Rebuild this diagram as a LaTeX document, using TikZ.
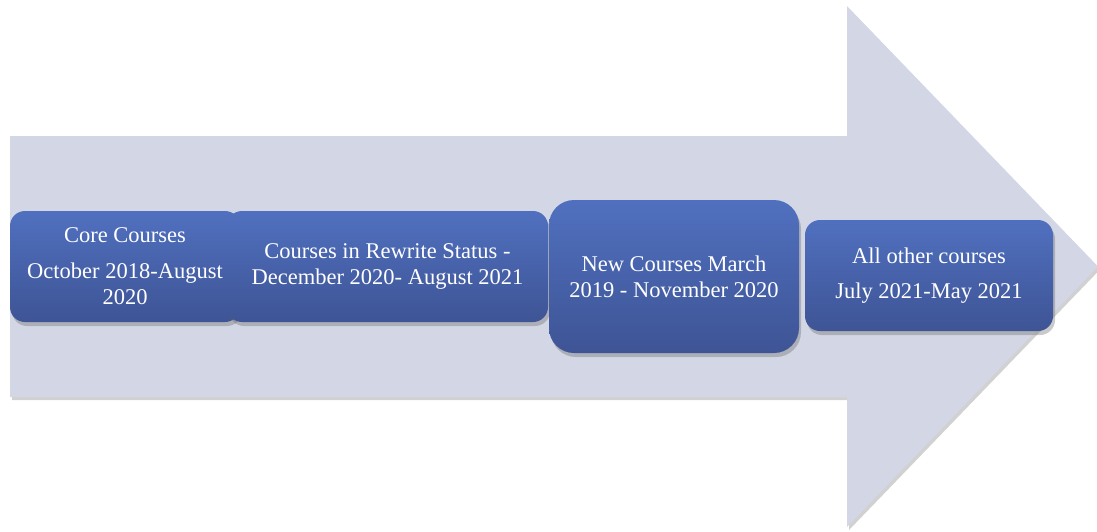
\documentclass[tikz,border=0pt]{standalone}
\usepackage{fontspec}
\setmainfont{Liberation Serif}
\usetikzlibrary{shadows}
\definecolor{arrowfill}{HTML}{D3D6E4}
\definecolor{boxtop}{HTML}{5070BF}
\definecolor{boxbot}{HTML}{3E5495}
\tikzset{
  stagebox/.style={rounded corners=15pt, top color=boxtop, bottom color=boxbot,
    draw=none, text=white, align=center, inner sep=0pt,
    font=\fontsize{22.5}{26}\selectfont,
    drop shadow={shadow xshift=2pt, shadow yshift=-4pt, opacity=0.35, fill=black!60}},
}
\begin{document}
\begin{tikzpicture}[x=1pt,y=-1pt]
\useasboundingbox (0,0) rectangle (1097,531);
\fill[arrowfill, drop shadow={shadow xshift=2pt, shadow yshift=-3pt, opacity=0.3, fill=black!60}]
  (10,136) -- (847,136) -- (847,6) -- (1098,266.5) -- (847,527) -- (847,397) -- (10,397) -- cycle;
\node[stagebox, minimum width=230pt, minimum height=111pt] (core) at (125,266.5)
  {Core Courses\\[10pt] October 2018-August\\ 2020};
\node[stagebox, minimum width=321pt, minimum height=111pt] (rewrite) at (387.5,266.5)
  {Courses in Rewrite Status -\\ December 2020- August 2021};
\node[stagebox, rounded corners=25pt, minimum width=250pt, minimum height=153pt] (new) at (674,276.5)
  {New Courses March\\ 2019 - November 2020};
\node[stagebox, minimum width=248pt, minimum height=111pt] (other) at (929,275.5)
  {All other courses\\[9pt] July 2021-May 2021};
\end{tikzpicture}
\end{document}
